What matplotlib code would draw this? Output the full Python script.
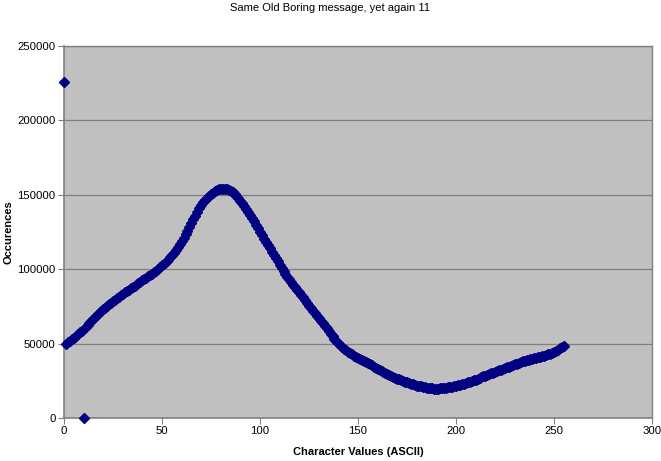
import matplotlib
matplotlib.use("Agg")
import matplotlib.pyplot as plt
import numpy as np

char_values = list(range(256))
occurrences = [
    226000, 50000, 50800, 51800, 52900, 54000, 55200, 56400, 57600, 58800,
    0, 61200, 62500, 63800, 65100, 66500, 67800, 69100, 70400, 71700,
    73000, 74100, 75200, 76300, 77400, 78500, 79500, 80500, 81500, 82500,
    83500, 84400, 85300, 86200, 87100, 88000, 88900, 89800, 90700, 91600,
    92500, 93400, 94300, 95200, 96100, 97000, 98000, 99000, 100100, 101300,
    102500, 103800, 105100, 106500, 108000, 109500, 111200, 113000, 114900, 116900,
    119000, 121300, 123600, 126000, 128500, 131000, 133500, 136000, 138500, 140800,
    143000, 144900, 146600, 148000, 149300, 150500, 151500, 152400, 153100, 153700,
    154000, 154100, 153900, 153600, 153100, 152500, 151600, 150500, 149200, 147700,
    146000, 144200, 142300, 140400, 138500, 136500, 134300, 132100, 129800, 127400,
    125000, 122800, 120600, 118400, 116200, 114000, 111800, 109600, 107400, 105200,
    103000, 101000, 99000, 97000, 95000, 93100, 91300, 89600, 87900, 86200,
    84500, 82800, 81000, 79200, 77400, 75600, 73900, 72100, 70400, 68700,
    67000, 65300, 63600, 61900, 60200, 58500, 56600, 55000, 53300, 51700,
    50200, 48800, 47500, 46400, 45400, 44500, 43600, 42800, 42000, 41200,
    40500, 39800, 39100, 38400, 37600, 36800, 36100, 35300, 34600, 33800,
    33100, 32400, 31700, 31000, 30300, 29600, 29000, 28400, 27700, 27100,
    26500, 26000, 25500, 25000, 24500, 24000, 23500, 23100, 22600, 22200,
    21800, 21500, 21200, 20900, 20600, 20300, 20100, 20000, 19900, 19800,
    19800, 19800, 19900, 20000, 20100, 20300, 20500, 20700, 21000, 21200,
    21500, 21900, 22300, 22700, 23100, 23500, 24000, 24400, 24900, 25300,
    25800, 26300, 26900, 27400, 28000, 28500, 29000, 29500, 30000, 30500,
    31000, 31500, 32000, 32500, 33000, 33500, 34000, 34500, 35000, 35500,
    36000, 36500, 37000, 37500, 38000, 38500, 38800, 39100, 39400, 39700,
    40000, 40400, 40800, 41200, 41600, 42000, 42400, 42800, 43300, 43900,
    44500, 45200, 46000, 46800, 47600, 48500,
]
x_ticks = [0, 50, 100, 150, 200, 250, 300]
y_ticks = [0, 50000, 100000, 150000, 200000, 250000]

title = "Same Old Boring message, yet again 11"
x_label = "Character Values (ASCII)"
y_label = "Occurences"

plt.rcParams['font.family'] = ['Liberation Sans', 'DejaVu Sans']

fig = plt.figure(figsize=(6.61, 4.61), dpi=100)
ax = fig.add_axes([64/661, 43/461, (652-64)/661, (418-46)/461])
ax.set_facecolor('#C0C0C0')

ax.plot(char_values, occurrences, linestyle='none', marker='D', markersize=5.5,
        color='#000080', markeredgecolor='#000080', clip_on=False, zorder=3)

ax.set_xlim(0, 300)
ax.set_ylim(0, 250000)
ax.set_xticks(x_ticks)
ax.set_yticks(y_ticks)
ax.set_xticklabels([str(t) for t in x_ticks], fontsize=8.2)
ax.set_yticklabels([str(t) for t in y_ticks], fontsize=8.2)
ax.yaxis.grid(True, color='#808080', linewidth=0.9)
ax.set_axisbelow(True)
ax.tick_params(axis='both', direction='out', length=4, width=0.8, color='#808080', pad=2)

for s in ['left', 'bottom']:
    ax.spines[s].set_color('#808080')
    ax.spines[s].set_linewidth(1.2)
for s in ['top', 'right']:
    ax.spines[s].set_color('#808080')
    ax.spines[s].set_linewidth(1.0)

ax.set_xlabel(x_label, fontsize=8, fontweight='bold', labelpad=8)
ax.set_ylabel(y_label, fontsize=8, fontweight='bold', labelpad=3)
fig.text(0.5, 1 - 8/461, title, ha='center', va='center', fontsize=8)

fig.savefig("out.png", dpi=100, facecolor='white')
